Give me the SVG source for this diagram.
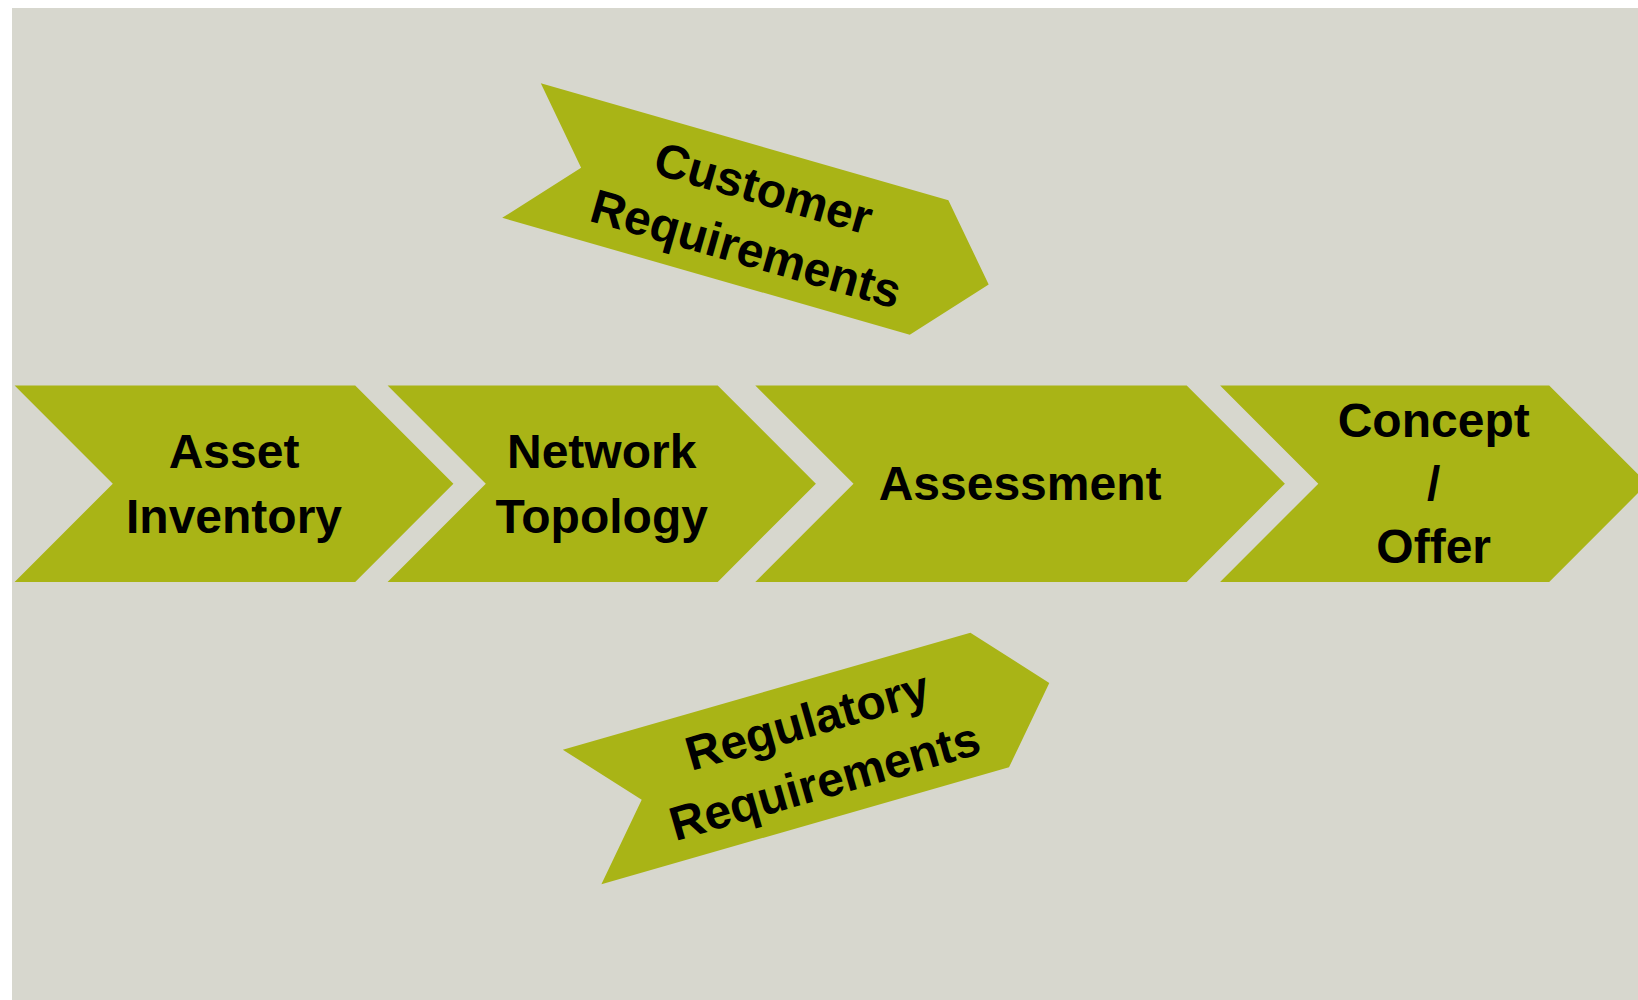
<svg xmlns="http://www.w3.org/2000/svg" width="1638" height="1000" viewBox="0 0 1638 1000">
  <style>
    .shape { fill: #A9B416; }
    .label { font-family: "Liberation Sans", Arial, sans-serif; font-weight: bold; font-size: 48px; fill: #000000; text-anchor: middle; }
  </style>
  <rect x="0" y="0" width="1638" height="1000" fill="#FFFFFF"/>
  <rect x="12" y="8" width="1626" height="992" fill="#D7D7CE"/>

  <g id="connectors"/>

  <g id="node-asset-inventory">
    <polygon class="shape" points="14.6,385.5 355.2,385.5 453.4,483.7 355.2,581.9 14.6,581.9 112.8,483.7"/>
    <text class="label" x="234" y="468.3">Asset</text>
    <text class="label" x="234" y="532.7">Inventory</text>
  </g>

  <g id="node-network-topology">
    <polygon class="shape" points="387.6,385.5 717.7,385.5 815.9,483.7 717.7,581.9 387.6,581.9 485.8,483.7"/>
    <text class="label" x="601.7" y="468.3">Network</text>
    <text class="label" x="601.7" y="532.7">Topology</text>
  </g>

  <g id="node-assessment">
    <polygon class="shape" points="755.3,385.5 1186.7,385.5 1284.9,483.7 1186.7,581.9 755.3,581.9 853.5,483.7"/>
    <text class="label" x="1020.1" y="500">Assessment</text>
  </g>

  <g id="node-concept-offer">
    <polygon class="shape" points="1220.1,385.5 1549.2,385.5 1647.4,483.7 1549.2,581.9 1220.1,581.9 1318.3,483.7"/>
    <text class="label" x="1433.7" y="436.7">Concept</text>
    <text class="label" x="1433.7" y="500">/</text>
    <text class="label" x="1433.7" y="562.7">Offer</text>
  </g>

  <g id="node-customer-requirements" transform="translate(725.3,209) rotate(16)">
    <polygon class="shape" points="-212,-70 212,-70 274,0 212,70 -212,70 -150,0"/>
    <text class="label" x="31" y="-14">Customer</text>
    <text class="label" x="31" y="49">Requirements</text>
  </g>

  <g id="node-regulatory-requirements" transform="translate(785.9,758.5) rotate(-16)">
    <polygon class="shape" points="-212,-70 212,-70 274,0 212,70 -212,70 -150,0"/>
    <text class="label" x="31" y="-14">Regulatory</text>
    <text class="label" x="31" y="49">Requirements</text>
  </g>
</svg>
